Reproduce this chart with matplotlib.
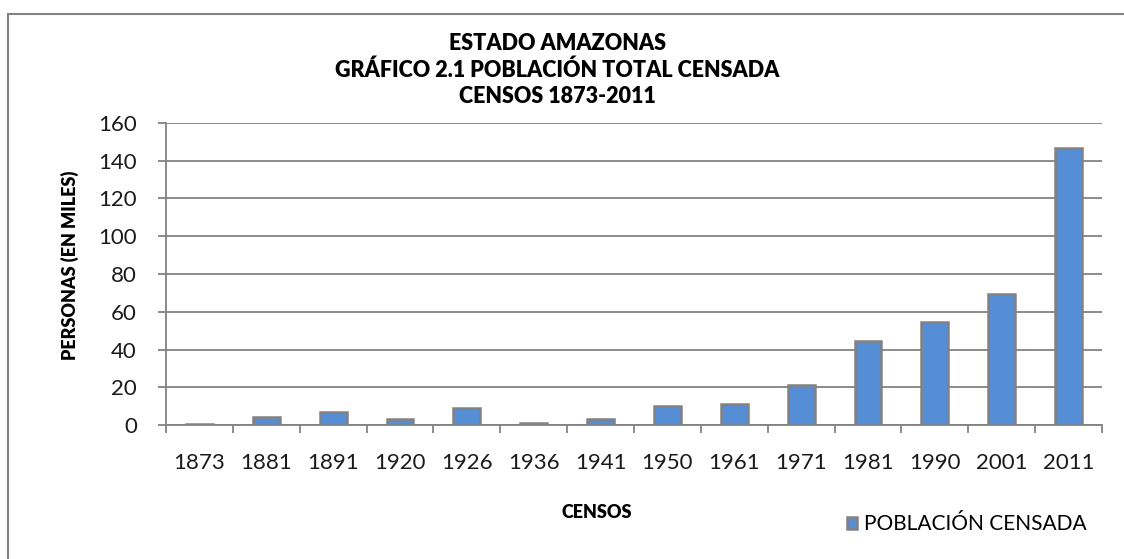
import matplotlib
matplotlib.use("Agg")
import matplotlib.pyplot as plt
from matplotlib.patches import Rectangle
import numpy as np

plt.rcParams["font.family"] = ["Lato", "DejaVu Sans"]

censos = ["1873", "1881", "1891", "1920", "1926", "1936", "1941",
          "1950", "1961", "1971", "1981", "1990", "2001", "2011"]
poblacion_miles = [0.4, 4.0, 7.0, 3.2, 9.1, 1.2, 3.2,
                   10.0, 11.0, 21.0, 44.4, 54.4, 69.6, 146.6]

titulo = "ESTADO AMAZONAS\nGRÁFICO 2.1 POBLACIÓN TOTAL CENSADA\nCENSOS 1873-2011"
ylabel = "PERSONAS (EN MILES)"
xlabel = "CENSOS"
leyenda = "POBLACIÓN CENSADA"

gris = "#828282"
azul = "#558ED5"

W, H = 1124, 559
fig = plt.figure(figsize=(W / 100, H / 100), dpi=100)
fig.patch.set_facecolor("white")

# outer chart frame (right/bottom edges fall outside the image)
fig.patches.append(Rectangle((8 / W, -0.05), 1.1, 1.05 - 14 / H,
                             transform=fig.transFigure, fill=False,
                             edgecolor=gris, linewidth=1.5))

ax = fig.add_axes([166 / W, 1 - 425 / H, (1102 - 166) / W, (425 - 123) / H])

x = np.arange(len(censos))
ax.bar(x, poblacion_miles, width=0.4, color=azul, edgecolor=gris,
       linewidth=1.8, zorder=3, label=leyenda)

ax.set_xlim(-0.5, len(censos) - 0.5)
ax.set_ylim(0, 160)
ax.set_yticks(np.arange(0, 161, 20))
ax.yaxis.grid(True, color=gris, linewidth=1.3, zorder=0)
ax.set_axisbelow(True)

for side in ["top", "right"]:
    ax.spines[side].set_visible(False)
for side in ["left", "bottom"]:
    ax.spines[side].set_color(gris)
    ax.spines[side].set_linewidth(1.3)

# category labels between boundary ticks, like a spreadsheet chart
ax.set_xticks(np.arange(-0.5, len(censos), 1.0))
ax.set_xticklabels([])
ax.set_xticks(x, minor=True)
ax.set_xticklabels(censos, minor=True)
ax.tick_params(axis="x", which="major", length=6, width=1.3, color=gris)
ax.tick_params(axis="x", which="minor", length=0, pad=20, labelsize=16,
               labelcolor="#1a1a1a")
ax.tick_params(axis="y", length=6, width=1.3, color=gris, pad=15,
               labelsize=16, labelcolor="#1a1a1a")

fig.text(0.496, 1 - 70 / H, titulo, ha="center", va="center",
         fontsize=15.5, fontweight="heavy", linespacing=1.3)
fig.text(70 / W, 1 - 265 / H, ylabel, rotation=90, ha="center",
         va="center", fontsize=13, fontweight="heavy")
fig.text(597 / W, 1 - 512 / H, xlabel, ha="center", va="center",
         fontsize=13, fontweight="heavy")

leg = fig.legend(loc="center left", bbox_to_anchor=(847 / W, 1 - 524 / H),
                 frameon=False, fontsize=15, handlelength=0.5,
                 handleheight=0.5, handletextpad=0.3, borderpad=0,
                 borderaxespad=0)

fig.savefig("out.png", dpi=100)
